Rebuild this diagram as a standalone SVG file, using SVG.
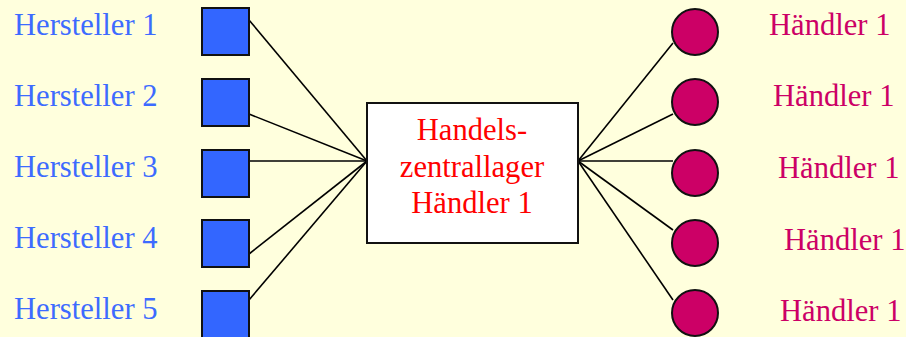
<svg xmlns="http://www.w3.org/2000/svg" width="906" height="337" viewBox="0 0 906 337">
<style>
.bg{fill:#FFFFDD}
.sq{fill:#3366FF;stroke:#111;stroke-width:2}
.ci{fill:#CC0066;stroke:#111;stroke-width:2}
.box{fill:#FFFFFF;stroke:#111;stroke-width:2}
.ln{stroke:#000;stroke-width:1.6;fill:none}
text{font-family:"Liberation Serif","Times New Roman",serif;font-size:30.6px}
.ht{fill:#3D6BFF}
.hd{fill:#CC0066}
.ct{fill:#FF0000;text-anchor:middle}
</style>
<rect class="bg" x="0" y="0" width="906" height="337"/>
<g id="connectors">
<line class="ln" x1="249" y1="20" x2="367" y2="161"/>
<line class="ln" x1="249" y1="114" x2="367" y2="161"/>
<line class="ln" x1="249" y1="161" x2="367" y2="161"/>
<line class="ln" x1="249" y1="254" x2="367" y2="161"/>
<line class="ln" x1="249" y1="300" x2="367" y2="161"/>
<line class="ln" x1="578" y1="161" x2="673" y2="43"/>
<line class="ln" x1="578" y1="161" x2="673" y2="114"/>
<line class="ln" x1="578" y1="161" x2="673" y2="161"/>
<line class="ln" x1="578" y1="161" x2="673" y2="230"/>
<line class="ln" x1="578" y1="161" x2="673" y2="300"/>
</g>
<g id="h1"><rect class="sq" x="202" y="8" width="47" height="47"/><text class="ht" x="14" y="35">Hersteller 1</text></g>
<g id="h2"><rect class="sq" x="202" y="79" width="47" height="47"/><text class="ht" x="14" y="106">Hersteller 2</text></g>
<g id="h3"><rect class="sq" x="202" y="150" width="47" height="47"/><text class="ht" x="14" y="177">Hersteller 3</text></g>
<g id="h4"><rect class="sq" x="202" y="220" width="47" height="47"/><text class="ht" x="14" y="248">Hersteller 4</text></g>
<g id="h5"><rect class="sq" x="202" y="291" width="47" height="47"/><text class="ht" x="14" y="319">Hersteller 5</text></g>
<g id="center">
<rect class="box" x="367" y="103" width="211" height="140"/>
<text class="ct" x="472" y="140">Handels-</text>
<text class="ct" x="472" y="177">zentrallager</text>
<text class="ct" x="472" y="213">Händler 1</text>
</g>
<g id="d1"><circle class="ci" cx="695" cy="32" r="23"/><text class="hd" x="769" y="35">Händler 1</text></g>
<g id="d2"><circle class="ci" cx="695" cy="102" r="23"/><text class="hd" x="773" y="106">Händler 1</text></g>
<g id="d3"><circle class="ci" cx="695" cy="173" r="23"/><text class="hd" x="778" y="178">Händler 1</text></g>
<g id="d4"><circle class="ci" cx="695" cy="243" r="23"/><text class="hd" x="784" y="250">Händler 1</text></g>
<g id="d5"><circle class="ci" cx="695" cy="313" r="23"/><text class="hd" x="780" y="321">Händler 1</text></g>
</svg>
